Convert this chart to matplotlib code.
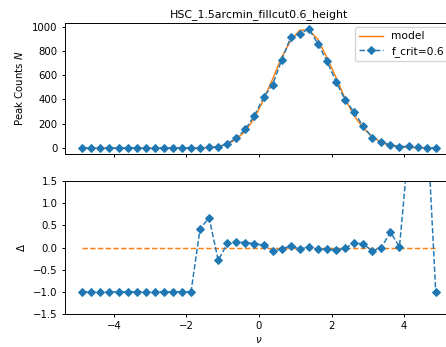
import numpy as np
import matplotlib
matplotlib.use("Agg")
import matplotlib.pyplot as plt

# Bin centres of the peak height nu
nu = np.arange(-4.875, 5.0, 0.25)

# Measured peak counts per bin
counts = np.array([
    0, 0, 0, 0, 0, 0, 0, 0, 0, 0, 0, 0, 0,
    2, 5, 9, 35, 82, 155, 268, 418, 522, 725, 912, 942, 981,
    860, 714, 546, 398, 295, 178, 86, 46, 27, 12, 14, 10, 3, 0,
])

# Model prediction per bin
model = np.array([
    0.01, 0.01, 0.01, 0.02, 0.02, 0.03, 0.04, 0.06, 0.09, 0.13, 0.2, 0.3, 0.6,
    1.4, 3.0, 12.7, 32.1, 72.6, 139.6, 245.9, 398.1, 567.4, 747.4, 885.4, 971.1, 971.3,
    895.8, 743.8, 580.9, 406.1, 265.8, 164.8, 93.5, 46.0, 20.1, 11.8, 4.3, 2.5, 0.75, 0.5,
])

# Fractional residual of the counts against the model
delta = counts / model - 1.0

plt.rcParams.update({
    "font.size": 7.3,
    "axes.linewidth": 0.7,
    "xtick.major.width": 0.7,
    "ytick.major.width": 0.7,
    "xtick.major.size": 2.5,
    "ytick.major.size": 2.5,
    "xtick.major.pad": 2.5,
    "ytick.major.pad": 2.5,
})

W, H = 446, 347
fig = plt.figure(figsize=(W / 100, H / 100), dpi=100)

left = 64.6 / W
width = (453.4 - 64.6) / W
ax1 = fig.add_axes([left, 1 - 154 / H, width, 131 / H])
ax2 = fig.add_axes([left, 1 - 314 / H, width, 133 / H], sharex=ax1)

ax1.plot(nu, model, color="C1", lw=1.05, label="model")
ax1.plot(nu, counts, "D--", color="C0", lw=1.05, ms=4.0, mew=0.7,
         label="f_crit=0.6")
ax1.set_ylabel("Peak Counts $N$", labelpad=5)
ax1.set_title("HSC_1.5arcmin_fillcut0.6_height", pad=4, fontsize=7.9)
ax1.legend(loc="upper left", bbox_to_anchor=(355 / W, 1 - 27 / H),
           bbox_transform=fig.transFigure, borderaxespad=0,
           fontsize=7.7, handlelength=2.2, handletextpad=0.8,
           borderpad=0.4, labelspacing=0.45)
ax1.tick_params(labelbottom=False)

ax2.plot(nu, np.zeros_like(nu), "--", color="C1", lw=1.05)
ax2.plot(nu, delta, "D--", color="C0", lw=1.05, ms=4.0, mew=0.7)
ax2.set_ylim(-1.5, 1.5)
ax2.set_yticks([-1.5, -1.0, -0.5, 0.0, 0.5, 1.0, 1.5])
ax2.set_ylabel(r"$\Delta$", labelpad=4)
ax2.set_xlabel(r"$\nu$", labelpad=3)

fig.savefig("out.png", dpi=100)
